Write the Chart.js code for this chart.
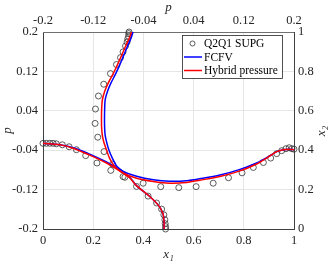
<!DOCTYPE html>
<html>
<head>
<meta charset="utf-8">
<script src="https://cdn.jsdelivr.net/npm/chart.js@4"></script>
<style>
  body { margin: 0; background: #fff; }
  canvas { display: block; }
</style>
</head>
<body>
<canvas id="grafica" width="332" height="263"></canvas>
<script>
// horizontal centre line: p against x1 (bottom / left axes)
var lineX1 = [0, 0.067, 0.12, 0.186, 0.253, 0.319, 0.373, 0.439, 0.505, 0.572, 0.625, 0.705, 0.785, 0.851, 0.891, 0.931, 0.957, 0.98, 1];
var lineHybridP = [-0.026, -0.029, -0.036, -0.050, -0.066, -0.086, -0.097, -0.1035, -0.107, -0.1055, -0.101, -0.0935, -0.082, -0.068, -0.056, -0.043, -0.039, -0.038, -0.039];
var lineFcfvP = [-0.026, -0.029, -0.035, -0.048, -0.064, -0.083, -0.093, -0.100, -0.103, -0.102, -0.098, -0.0905, -0.079, -0.066, -0.055, -0.043, -0.039, -0.038, -0.039];

var supgX1 = [0, 0.0136, 0.027, 0.040, 0.053, 0.077, 0.104, 0.133, 0.170, 0.215, 0.270, 0.326, 0.399, 0.469, 0.541, 0.610, 0.678, 0.739, 0.793, 0.838, 0.878, 0.907, 0.931, 0.951, 0.968, 0.981, 0.992, 1.0];
var supgP = [-0.026, -0.026, -0.026, -0.026, -0.027, -0.029, -0.033, -0.039, -0.051, -0.066, -0.081, -0.095, -0.107, -0.114, -0.116, -0.114, -0.107, -0.096, -0.086, -0.075, -0.065, -0.056, -0.047, -0.041, -0.037, -0.035, -0.037, -0.038];

// vertical centre line: x2 against p (top / right axes)
var colX2 = [0, 0.04, 0.08, 0.12, 0.165, 0.22, 0.26, 0.283, 0.317, 0.36, 0.401, 0.44, 0.477, 0.515, 0.553, 0.6, 0.654, 0.7, 0.739, 0.78, 0.823, 0.865, 0.907, 0.945, 0.975, 1.0];
var colHybridP = [-0.007, -0.0072, -0.009, -0.016, -0.030, -0.051, -0.062, -0.0724, -0.0856, -0.094, -0.0988, -0.1030, -0.1055, -0.1066, -0.1068, -0.1066, -0.1055, -0.1015, -0.0963, -0.0895, -0.0829, -0.0770, -0.0712, -0.0660, -0.0617, -0.059];
var colFcfvP = [-0.007, -0.0072, -0.009, -0.016, -0.030, -0.051, -0.061, -0.069, -0.082, -0.0895, -0.095, -0.0985, -0.101, -0.1018, -0.102, -0.1018, -0.101, -0.097, -0.092, -0.0855, -0.079, -0.0735, -0.068, -0.063, -0.059, -0.0565];

var supgColX2 = [1.0, 0.992, 0.978, 0.965, 0.949, 0.929, 0.899, 0.870, 0.835, 0.789, 0.735, 0.675, 0.609, 0.536, 0.466, 0.393, 0.329, 0.266, 0.216, 0.167, 0.132, 0.101, 0.072, 0.047, 0.027, 0.012, 0.0];
var supgColP = [-0.0628, -0.0633, -0.0637, -0.0649, -0.066, -0.0685, -0.0724, -0.0765, -0.0829, -0.0925, -0.1032, -0.1116, -0.1164, -0.117, -0.1127, -0.1027, -0.0893, -0.0724, -0.051, -0.0325, -0.019, -0.011, -0.0074, -0.0058, -0.0053, -0.0047, -0.0047];

var pTicks = [-0.2, -0.12, -0.04, 0.04, 0.12, 0.2];
var xTicks = [0, 0.2, 0.4, 0.6, 0.8, 1];

var fuente = '"Liberation Serif", "DejaVu Serif", serif';

function puntos(xs, ys) {
    var out = [];
    for (var i = 0; i < xs.length; i++) {
        out.push({ x: xs[i], y: ys[i] });
    }
    return out;
}

function fijarTicks(lista) {
    return function (scale) {
        scale.ticks = lista.map(function (v) { return { value: v }; });
    };
}

const leyenda = {
    id: 'leyenda',
    afterDatasetsDraw(chart) {
        const ctx = chart.ctx;
        const a = chart.chartArea;
        const items = chart.data.datasets.filter(function (d) { return d.enLeyenda; });
        ctx.save();
        ctx.font = '11.5px ' + fuente;
        var tw = 0;
        items.forEach(function (d) { tw = Math.max(tw, ctx.measureText(d.label).width); });
        const w = Math.round(22 + tw + 4), h = 43;
        const x0 = Math.round(a.right - 12 - w), y0 = Math.round(a.top + 3);
        ctx.fillStyle = '#fff';
        ctx.fillRect(x0, y0, w, h);
        ctx.strokeStyle = '#262626';
        ctx.lineWidth = 0.8;
        ctx.strokeRect(x0 + 0.5, y0 + 0.5, w, h);
        items.forEach(function (d, i) {
            const yy = y0 + 8.5 + i * 13.5;
            if (d.showLine) {
                ctx.strokeStyle = d.borderColor;
                ctx.lineWidth = 1.5;
                ctx.beginPath();
                ctx.moveTo(x0 + 2, yy);
                ctx.lineTo(x0 + 20, yy);
                ctx.stroke();
            } else {
                ctx.strokeStyle = d.pointBorderColor;
                ctx.lineWidth = 0.8;
                ctx.beginPath();
                ctx.arc(x0 + 10.5, yy, 2.5, 0, Math.PI * 2);
                ctx.stroke();
            }
            ctx.fillStyle = '#000';
            ctx.textBaseline = 'middle';
            ctx.fillText(d.label, x0 + 22, yy + 0.5);
        });
        ctx.restore();
    }
};

// right axis title, read bottom to top like the left one
const tituloDerecho = {
    id: 'tituloDerecho',
    afterDraw(chart) {
        const c = chart.ctx;
        const a = chart.chartArea;
        c.save();
        c.setTransform(1, 0, 0, 1, 0, 0);
        c.font = 'italic 13px ' + fuente;
        c.fillStyle = '#262626';
        c.textAlign = 'center';
        c.textBaseline = 'middle';
        c.translate(322, Math.round((a.top + a.bottom) / 2));
        c.rotate(-Math.PI / 2);
        c.fillText('x\u2082', 0, 0);
        c.restore();
    }
};

const ctx = document.getElementById('grafica').getContext('2d');
const myChart = new Chart(ctx, {
    type: 'scatter',
    data: {
        datasets: [{
            label: 'Q2Q1 SUPG',
            enLeyenda: true,
            data: puntos(supgX1, supgP),
            xAxisID: 'x', yAxisID: 'y',
            pointRadius: 3,
            pointBackgroundColor: 'rgba(0,0,0,0)',
            pointBorderColor: '#333',
            pointBorderWidth: 0.8,
            clip: false,
            order: 3
        },
        {
            label: 'Q2Q1 SUPG',
            data: puntos(supgColP, supgColX2),
            xAxisID: 'xTop', yAxisID: 'yRight',
            pointRadius: 3,
            pointBackgroundColor: 'rgba(0,0,0,0)',
            pointBorderColor: '#333',
            pointBorderWidth: 0.8,
            clip: false,
            order: 3
        },
        {
            label: 'FCFV',
            enLeyenda: true,
            data: puntos(lineX1, lineFcfvP),
            xAxisID: 'x', yAxisID: 'y',
            showLine: true, pointRadius: 0, tension: 0.3,
            borderColor: 'rgb(0, 0, 255)', borderWidth: 1.5,
            order: 2
        },
        {
            label: 'FCFV',
            data: puntos(colFcfvP, colX2),
            xAxisID: 'xTop', yAxisID: 'yRight',
            showLine: true, pointRadius: 0, tension: 0.3,
            borderColor: 'rgb(0, 0, 255)', borderWidth: 1.5,
            order: 2
        },
        {
            label: 'Hybrid pressure',
            enLeyenda: true,
            data: puntos(lineX1, lineHybridP),
            xAxisID: 'x', yAxisID: 'y',
            showLine: true, pointRadius: 0, tension: 0.3,
            borderColor: 'rgb(255, 0, 0)', borderWidth: 1.5,
            order: 1
        },
        {
            label: 'Hybrid pressure',
            data: puntos(colHybridP, colX2),
            xAxisID: 'xTop', yAxisID: 'yRight',
            showLine: true, pointRadius: 0, tension: 0.3,
            borderColor: 'rgb(255, 0, 0)', borderWidth: 1.5,
            order: 1
        }]
    },
    options: {
        responsive: false,
        animation: false,
        devicePixelRatio: 1,
        layout: { padding: 0 },
        plugins: {
            legend: { display: false },
            tooltip: { enabled: false }
        },
        scales: {
            x: {
                type: 'linear', position: 'bottom', min: 0, max: 1,
                afterBuildTicks: fijarTicks(xTicks),
                afterFit: function (s) { s.height = 34; },
                grid: { color: '#e6e6e6', drawTicks: false },
                border: { color: '#404040' },
                ticks: { padding: 4, color: '#262626', font: { family: fuente, size: 12.5 }, callback: function (v) { return String(v); } },
                title: { display: true, text: 'x₁', padding: { top: 0, bottom: 1 }, color: '#262626', font: { family: fuente, size: 13, style: 'italic' } }
            },
            y: {
                type: 'linear', position: 'left', min: -0.2, max: 0.2,
                afterBuildTicks: fijarTicks(pTicks),
                afterFit: function (s) { s.width = 43; },
                grid: { color: '#e6e6e6', drawTicks: false },
                border: { color: '#404040' },
                ticks: { padding: 5, color: '#262626', font: { family: fuente, size: 12.5 }, callback: function (v) { return String(v); } },
                title: { display: true, text: 'p', padding: { top: 0, bottom: 0 }, color: '#262626', font: { family: fuente, size: 13, style: 'italic' } }
            },
            xTop: {
                type: 'linear', position: 'top', min: -0.2, max: 0.2,
                afterBuildTicks: fijarTicks(pTicks),
                afterFit: function (s) { s.height = 32; },
                grid: { display: false, drawTicks: false },
                border: { color: '#707070' },
                ticks: { padding: 4, color: '#262626', font: { family: fuente, size: 12.5 }, callback: function (v) { return String(v); } },
                title: { display: true, text: 'p', padding: { top: 0, bottom: 0 }, color: '#262626', font: { family: fuente, size: 13, style: 'italic' } }
            },
            yRight: {
                type: 'linear', position: 'right', min: 0, max: 1,
                afterBuildTicks: fijarTicks(xTicks),
                afterFit: function (s) { s.width = 38; },
                grid: { display: false, drawTicks: false },
                border: { color: '#404040' },
                ticks: { padding: 4, color: '#262626', font: { family: fuente, size: 12.5 }, callback: function (v) { return String(v); } },
                title: { display: false }
            }
        }
    },
    plugins: [leyenda, tituloDerecho]
});
</script>
</body>
</html>
